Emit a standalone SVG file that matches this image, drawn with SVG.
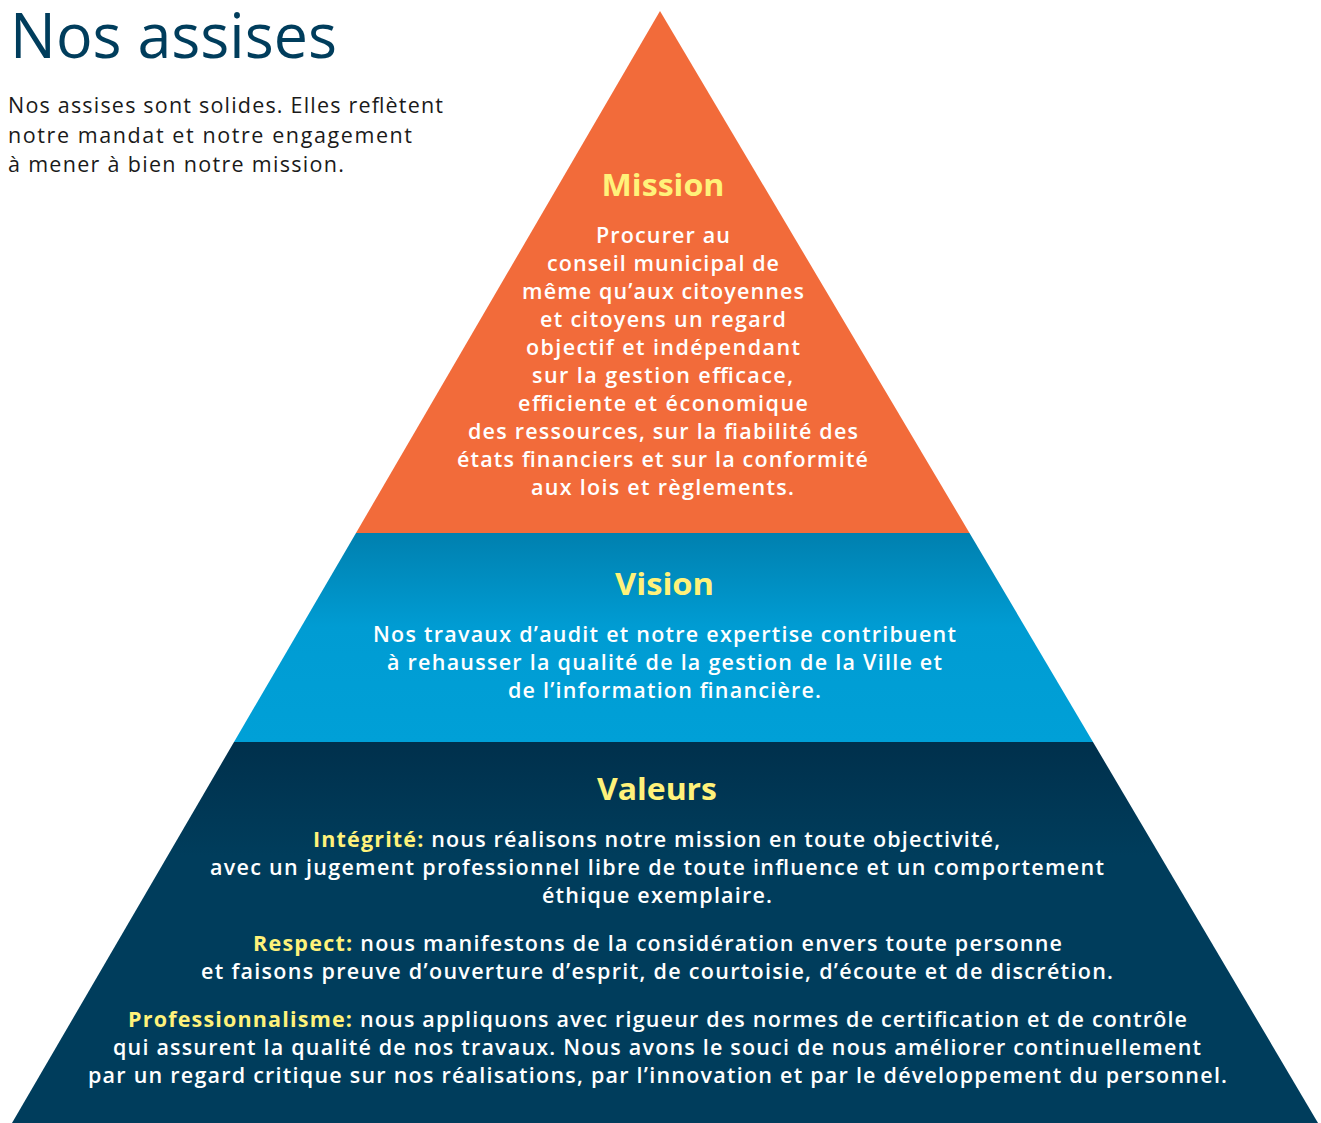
<svg xmlns="http://www.w3.org/2000/svg" width="1321" height="1123" viewBox="0 0 1321 1123">
<defs>
<linearGradient id="gVision" x1="0" y1="533" x2="0" y2="742" gradientUnits="userSpaceOnUse">
<stop offset="0" stop-color="#0080af"/>
<stop offset="0.45" stop-color="#009cd3"/>
<stop offset="1" stop-color="#00a0d7"/>
</linearGradient>
<linearGradient id="gValeurs" x1="0" y1="742" x2="0" y2="1122" gradientUnits="userSpaceOnUse">
<stop offset="0" stop-color="#00304c"/>
<stop offset="0.3" stop-color="#003d5c"/>
<stop offset="1" stop-color="#003d5c"/>
</linearGradient>
</defs>
<style>
.title{font-family:"Open Sans","Noto Sans",sans-serif;font-size:63px;fill:#003d5c;font-weight:400}
.intro{font-family:"Open Sans","Noto Sans",sans-serif;font-size:21.5px;fill:#1a1a1a}
.head{font-family:"Open Sans","Noto Sans",sans-serif;font-size:31px;font-weight:700;fill:#fff27a;text-anchor:middle}
.body{font-family:"Open Sans","Noto Sans",sans-serif;font-size:21.5px;font-weight:600;fill:#ffffff}
.c{text-anchor:middle}
.y{fill:#fff27a;font-weight:700}
</style>
<g id="header">
<text class="title" x="10" y="58" textLength="327" lengthAdjust="spacingAndGlyphs">Nos assises</text>
<text class="intro" x="8" y="113" textLength="435">Nos assises sont solides. Elles reflètent</text>
<text class="intro" x="8" y="143" textLength="404">notre mandat et notre engagement</text>
<text class="intro" x="8" y="172" textLength="336">à mener à bien notre mission.</text>
</g>
<g id="mission">
<polygon points="660,11 969.5,533 356,533" fill="#f26b3a"/>
<text class="head" x="663" y="196" textLength="123" lengthAdjust="spacingAndGlyphs">Mission</text>
<g class="body c">
<text x="663" y="243" textLength="134">Procurer au</text>
<text x="663" y="271" textLength="232">conseil municipal de</text>
<text x="663" y="299" textLength="282">même qu’aux citoyennes</text>
<text x="663" y="327" textLength="246">et citoyens un regard</text>
<text x="663" y="355" textLength="274">objectif et indépendant</text>
<text x="662.5" y="383" textLength="261">sur la gestion efficace,</text>
<text x="663" y="411" textLength="290">efficiente et économique</text>
<text x="663" y="439" textLength="390">des ressources, sur la fiabilité des</text>
<text x="662.5" y="467" textLength="411">états financiers et sur la conformité</text>
<text x="662.5" y="495" textLength="263">aux lois et règlements.</text>
</g>
</g>
<g id="vision">
<polygon points="356,533 969.5,533 1093,742 234,742" fill="url(#gVision)"/>
<text class="head" x="664.5" y="595" textLength="99" lengthAdjust="spacingAndGlyphs">Vision</text>
<g class="body c">
<text x="664.5" y="642" textLength="583">Nos travaux d’audit et notre expertise contribuent</text>
<text x="664.5" y="670" textLength="555">à rehausser la qualité de la gestion de la Ville et</text>
<text x="664.5" y="698" textLength="313">de l’information financière.</text>
</g>
</g>
<g id="valeurs">
<polygon points="234,742 1093,742 1318,1123 12,1123" fill="url(#gValeurs)"/>
<text class="head" x="657" y="800" textLength="120" lengthAdjust="spacingAndGlyphs">Valeurs</text>
<g class="body">
<text x="313" y="847" textLength="687"><tspan class="y">Intégrité:</tspan> nous réalisons notre mission en toute objectivité,</text>
<text class="c" x="657" y="875" textLength="894">avec un jugement professionnel libre de toute influence et un comportement</text>
<text class="c" x="657" y="903" textLength="230">éthique exemplaire.</text>
<text x="253" y="951" textLength="809"><tspan class="y">Respect:</tspan>  nous manifestons de la considération envers toute personne</text>
<text class="c" x="657" y="979" textLength="912">et faisons preuve d’ouverture d’esprit, de courtoisie, d’écoute et de discrétion.</text>
<text x="128" y="1027" textLength="1059"><tspan class="y">Professionnalisme:</tspan> nous appliquons avec rigueur des normes de certification et de contrôle</text>
<text class="c" x="657" y="1055" textLength="1088">qui assurent la qualité de nos travaux. Nous avons le souci de nous améliorer continuellement</text>
<text class="c" x="657.5" y="1083" textLength="1139">par un regard critique sur nos réalisations, par l’innovation et par le développement du personnel.</text>
</g>
</g>
</svg>
